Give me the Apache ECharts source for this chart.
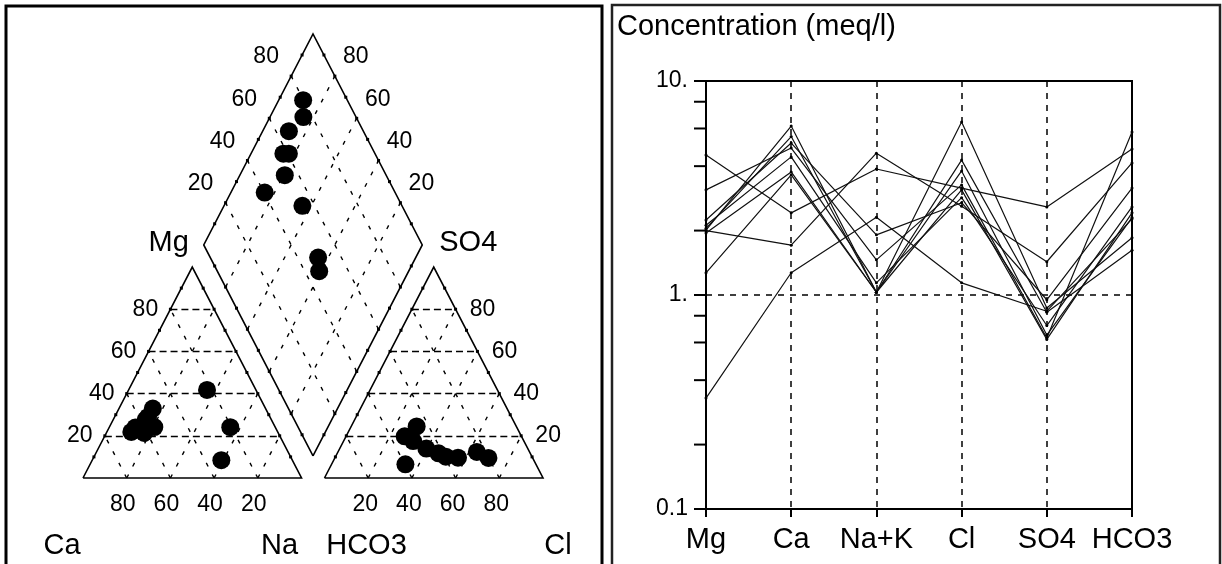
<!DOCTYPE html>
<html>
<head>
<meta charset="utf-8">
<title>Piper / Schoeller</title>
<script src="https://cdn.jsdelivr.net/npm/echarts@6/dist/echarts.min.js"></script>
</head>
<body style="margin:0;background:#fff">
<div id="main" style="width:1222px;height:564px;"></div>
<script>
// one entry per water sample, meq/l
var ions = ['Mg', 'Ca', 'Na+K', 'Cl', 'SO4', 'HCO3'];
var mg   = [4.51, 2.00, 0.33, 2.01, 1.95, 3.10, 2.24, 2.12, 1.27, 2.05];
var ca   = [2.42, 1.71, 1.27, 6.16, 3.76, 4.86, 5.13, 4.42, 3.64, 5.50];
var nak  = [3.88, 4.60, 2.31, 1.03, 1.03, 1.46, 1.91, 1.14, 1.03, 1.03];
var cl   = [3.16, 2.60, 1.14, 6.43, 4.27, 3.27, 2.70, 2.85, 3.10, 3.80];
var so4  = [2.58, 1.43, 0.84, 0.87, 0.83, 0.63, 0.95, 0.72, 0.62, 0.65];
var hco3 = [4.81, 4.14, 2.27, 1.85, 1.62, 5.78, 3.16, 2.58, 2.42, 2.30];

var yTickLabels = ['0.1', '1.', '10.'];
var minorTicks = [0.2, 0.4, 0.6, 0.8, 2, 4, 6, 8];
var pctTicks = [20, 40, 60, 80];

var FONT = 'Liberation Sans';
var H = Math.sqrt(3) / 2;
var G = 0.105;              // gap between the triangles (in triangle sides)
var B = G * H;              // height of the diamond's bottom corner
var YMAX = B + 2 * H + 0.03;

// piper positions
function cation(i) {
    var t = mg[i] + ca[i] + nak[i];
    return [nak[i] / t + mg[i] / t / 2, mg[i] / t * H];
}
function anion(i) {
    var t = cl[i] + so4[i] + hco3[i];
    return [1 + G + cl[i] / t + so4[i] / t / 2, so4[i] / t * H];
}
function diamond(i) {
    var a = nak[i] / (mg[i] + ca[i] + nak[i]);
    var c = 1 + G + (cl[i] + so4[i]) / (cl[i] + so4[i] + hco3[i]);
    return [(a + c) / 2, (c - a) * H];
}
function lerp(p, q, f) {
    return [p[0] + (q[0] - p[0]) * f, p[1] + (q[1] - p[1]) * f];
}

var lt = [[0, 0], [1, 0], [0.5, H]];
var rt = [[1 + G, 0], [2 + G, 0], [1.5 + G, H]];
var dm = [[1 + G / 2, B], [1.5 + G / 2, B + H], [1 + G / 2, B + 2 * H], [0.5 + G / 2, B + H]]; // bottom, right, top, left

var outlines = [
    {coords: [lt[0], lt[1], lt[2], lt[0]]},
    {coords: [rt[0], rt[1], rt[2], rt[0]]},
    {coords: [dm[0], dm[1], dm[2], dm[3], dm[0]]}
];

var hLines = [], dLines = [], edgeDots = [];
[lt, rt].forEach(function (t) {
    pctTicks.forEach(function (k) {
        var f = k / 100;
        hLines.push({coords: [lerp(t[0], t[2], f), lerp(t[1], t[2], f)]});
        dLines.push({coords: [lerp(t[0], t[1], f), lerp(t[2], t[1], f)]});
        dLines.push({coords: [lerp(t[0], t[1], f), lerp(t[0], t[2], f)]});
    });
    for (var j = 1; j < 10; j++) {
        edgeDots.push(lerp(t[0], t[2], j / 10), lerp(t[1], t[2], j / 10));
    }
});
pctTicks.forEach(function (k) {
    var f = k / 100;
    dLines.push({coords: [lerp(dm[0], dm[1], f), lerp(dm[3], dm[2], f)]});
    dLines.push({coords: [lerp(dm[0], dm[3], f), lerp(dm[1], dm[2], f)]});
});
for (var j = 1; j < 10; j++) {
    edgeDots.push(lerp(dm[0], dm[1], j / 10), lerp(dm[1], dm[2], j / 10),
                  lerp(dm[2], dm[3], j / 10), lerp(dm[3], dm[0], j / 10));
}

function lab(pt, text, dx, dy, size) {
    return {value: pt, label: {formatter: text, offset: [dx, dy], fontSize: size}};
}
var labels = [];
pctTicks.forEach(function (k) {
    var f = k / 100, s = String(k);
    labels.push(lab(lerp(lt[0], lt[2], f), s, -25, 0, 23));
    labels.push(lab([1 - f, 0], s, -4, 27, 23));
    labels.push(lab(lerp(rt[1], rt[2], f), s, 27, 0, 23));
    labels.push(lab([1 + G + f, 0], s, -3, 27, 23));
    labels.push(lab(lerp(dm[3], dm[2], f), s, -25, -19, 23));
    labels.push(lab(lerp(dm[1], dm[2], f), s, 21, -19, 23));
});
labels.push(lab(dm[3], 'Mg', -35, -2, 29));
labels.push(lab(dm[1], 'SO4', 46, -2, 29));
labels.push(lab(lt[0], 'Ca', -21, 68, 29));
labels.push(lab(lt[1], 'Na', -22, 68, 29));
labels.push(lab(rt[0], 'HCO3', 42, 68, 29));
labels.push(lab(rt[1], 'Cl', 15, 68, 29));

var samplePts = [];
for (var i = 0; i < mg.length; i++) {
    samplePts.push(cation(i), anion(i), diamond(i));
}

var series = [
    {type: 'lines', coordinateSystem: 'cartesian2d', xAxisIndex: 0, yAxisIndex: 0, polyline: true,
     clip: false, silent: true, data: outlines, lineStyle: {color: '#000', width: 1.6, opacity: 1}},
    {type: 'lines', coordinateSystem: 'cartesian2d', xAxisIndex: 0, yAxisIndex: 0,
     silent: true, data: hLines, lineStyle: {color: '#000', width: 1.4, type: [7, 4], opacity: 1}},
    {type: 'lines', coordinateSystem: 'cartesian2d', xAxisIndex: 0, yAxisIndex: 0,
     silent: true, data: dLines, lineStyle: {color: '#000', width: 1.4, type: [4, 9], opacity: 1}},
    {type: 'scatter', xAxisIndex: 0, yAxisIndex: 0, data: edgeDots, symbol: 'rect', symbolSize: 3,
     itemStyle: {color: '#000', opacity: 1}, silent: true, clip: false},
    {type: 'scatter', xAxisIndex: 0, yAxisIndex: 0, data: samplePts, symbolSize: 18,
     itemStyle: {color: '#000', opacity: 1}, clip: false},
    {type: 'scatter', xAxisIndex: 0, yAxisIndex: 0, data: labels, symbolSize: 0, silent: true, clip: false,
     itemStyle: {opacity: 1},
     label: {show: true, position: 'inside', color: '#000', fontFamily: FONT, align: 'center', verticalAlign: 'middle'}},
    {type: 'scatter', xAxisIndex: 1, yAxisIndex: 1, symbol: 'rect', symbolSize: [12, 2], symbolOffset: [-6, 0],
     data: minorTicks.map(function (v) { return ['Mg', v]; }), itemStyle: {color: '#000', opacity: 1},
     silent: true, clip: false}
];
for (var i = 0; i < mg.length; i++) {
    series.push({
        type: 'line', xAxisIndex: 1, yAxisIndex: 1,
        data: [mg[i], ca[i], nak[i], cl[i], so4[i], hco3[i]],
        symbol: 'circle', symbolSize: 3, itemStyle: {color: '#000'},
        lineStyle: {color: '#111', width: 1.2}
    });
}

var myChart = echarts.init(document.getElementById('main'));
myChart.setOption({
    animation: false,
    backgroundColor: '#fff',
    grid: [
        {left: 83, top: 478 - YMAX * 243.6, width: 460, height: YMAX * 243.6,
         containLabel: false, outerBoundsMode: 'none'},
        {left: 706, top: 81, width: 426, height: 428, show: true, borderColor: '#000', borderWidth: 2,
         containLabel: false, outerBoundsMode: 'none'}
    ],
    xAxis: [
        {gridIndex: 0, type: 'value', min: 0, max: 2 + G, show: false},
        {gridIndex: 1, type: 'category', data: ions, boundaryGap: false,
         axisLine: {lineStyle: {color: '#000', width: 2}},
         axisTick: {length: 8, interval: 0, lineStyle: {color: '#000', width: 2}},
         axisLabel: {color: '#000', fontSize: 29, fontFamily: FONT, margin: 16, interval: 0},
         splitLine: {show: true, interval: 0, lineStyle: {color: '#000', width: 1.5, type: [6, 6]}}}
    ],
    yAxis: [
        {gridIndex: 0, type: 'value', min: 0, max: YMAX, show: false},
        {gridIndex: 1, type: 'log', logBase: 10, min: 0.1, max: 10,
         axisLine: {show: true, lineStyle: {color: '#000', width: 2}},
         axisTick: {show: true, length: 12, lineStyle: {color: '#000', width: 2}},
         axisLabel: {color: '#000', fontSize: 23, fontFamily: FONT, margin: 18,
                     formatter: function (v) { return yTickLabels[Math.round(Math.log10(v)) + 1]; }},
         splitLine: {show: true, lineStyle: {color: '#000', width: 1.5, type: [6, 6]}}}
    ],
    graphic: [
        {type: 'rect', shape: {x: 6, y: 6, width: 596, height: 580}, style: {fill: 'none', stroke: '#000', lineWidth: 3}},
        {type: 'rect', shape: {x: 612, y: 5, width: 608, height: 580}, style: {fill: 'none', stroke: '#222', lineWidth: 2.5}},
        {type: 'text', x: 617, y: 12, style: {text: 'Concentration (meq/l)', fontSize: 29, fontFamily: FONT, fill: '#000'}}
    ],
    series: series
});
</script>
</body>
</html>
